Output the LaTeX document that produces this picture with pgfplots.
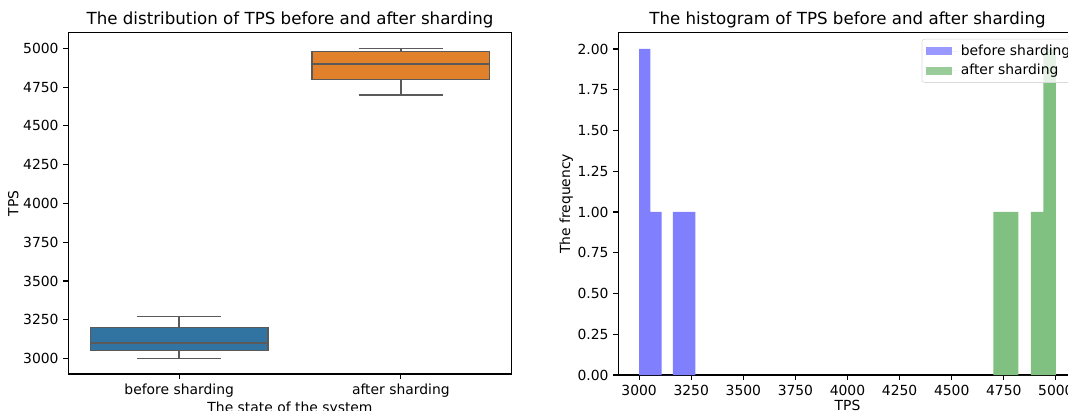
\documentclass[border=0pt]{standalone}
\usepackage{pgfplots}
\pgfplotsset{compat=1.18}
\usepackage{fontspec}
\setmainfont{DejaVu Sans}
\definecolor{sbblue}{HTML}{3274A1}
\definecolor{sborange}{HTML}{E1812C}
\definecolor{sbgray}{HTML}{5A5A5A}
\definecolor{histblue}{HTML}{8080FF}
\definecolor{histgreen}{HTML}{80C080}
\pgfplotsset{
  every axis/.append style={
    scale only axis,
    axis line style={line width=0.8pt},
    tick style={black, line width=0.8pt},
    tick align=outside,
    major tick length=3.5pt,
    tick pos=left,
    tick label style={font=\fontsize{10}{12}\selectfont},
    label style={font=\fontsize{10}{12}\selectfont},
    title style={font=\fontsize{12}{14}\selectfont, yshift=-6pt},
    ylabel shift=-3.5pt,
    xlabel shift=-3.5pt,
    /pgf/number format/assume math mode=true,
    /pgf/number format/1000 sep={},
  },
  bx/.style={draw=sbgray, line width=1pt, solid, mark=none, forget plot},
}
\begin{document}
\begin{tikzpicture}
\begin{axis}[
  at={(49.2pt,26.6pt)}, anchor=south west,
  width=319.2pt, height=245.7pt,
  xmin=-0.5, xmax=1.5, ymin=2900, ymax=5100,
  xtick={0,1}, xticklabels={before sharding, after sharding},
  ytick={3000,3250,...,5000},
  xlabel={The state of the system}, ylabel={TPS},
  title={The distribution of TPS before and after sharding},
]
% before sharding: whiskers 3000-3270, box 3050-3200, median 3100
\addplot[bx] coordinates {(0,3000) (0,3050)};
\addplot[bx] coordinates {(0,3200) (0,3270)};
\addplot[bx] coordinates {(-0.19,3000) (0.19,3000)};
\addplot[bx] coordinates {(-0.19,3270) (0.19,3270)};
\addplot[bx, fill=sbblue] coordinates {(-0.4,3050) (0.4,3050) (0.4,3200) (-0.4,3200)} -- cycle;
\addplot[bx] coordinates {(-0.4,3100) (0.4,3100)};
% after sharding: whiskers 4700-5000, box 4800-4980, median 4900
\addplot[bx] coordinates {(1,4700) (1,4800)};
\addplot[bx] coordinates {(1,4980) (1,5000)};
\addplot[bx] coordinates {(0.81,4700) (1.19,4700)};
\addplot[bx] coordinates {(0.81,5000) (1.19,5000)};
\addplot[bx, fill=sborange] coordinates {(0.6,4800) (1.4,4800) (1.4,4980) (0.6,4980)} -- cycle;
\addplot[bx] coordinates {(0.6,4900) (1.4,4900)};
\end{axis}
\begin{axis}[
  at={(445.2pt,25.9pt)}, anchor=south west,
  width=330pt, height=246.5pt,
  xmin=2900, xmax=5100, ymin=0, ymax=2.1,
  xtick={3000,3250,...,5000},
  ytick={0,0.25,...,2.0},
  yticklabel style={/pgf/number format/.cd, fixed, fixed zerofill, precision=2},
  xlabel={TPS}, ylabel={The frequency},
  title={The histogram of TPS before and after sharding},
  legend style={at={(1,1)}, anchor=north east, xshift=0.6pt, yshift=-4.5pt,
    font=\fontsize{10}{12}\selectfont, draw=black!15, fill=white, fill opacity=0.8,
    text opacity=1, rounded corners=2pt, row sep=1pt},
  legend cell align=left,
  legend image code/.code={\fill[#1, sharp corners] (0pt,-2.9pt) rectangle (18.4pt,2.9pt); \path (0pt,0pt) -- (23pt,0pt);},
]
\addplot[ybar interval, fill=histblue, draw=none] coordinates {
  (3000,2) (3054,1) (3108,0) (3162,1) (3216,1) (3270,1)};
\addlegendentry{before sharding}
\addplot[ybar interval, fill=histgreen, draw=none] coordinates {
  (4700,1) (4760,1) (4820,0) (4880,1) (4940,2) (5000,2)};
\addlegendentry{after sharding}
\end{axis}
\pgfresetboundingbox
\useasboundingbox (0pt,0pt) rectangle (768.96pt,295.92pt);
\end{tikzpicture}
\end{document}
